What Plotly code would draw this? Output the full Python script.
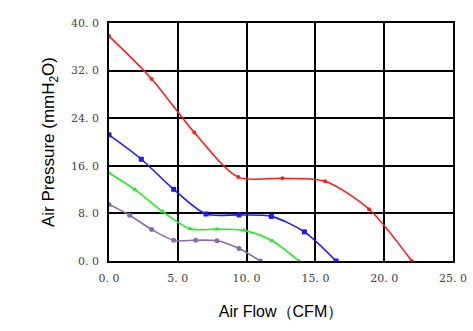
import plotly.graph_objects as go

# P-Q curves for four fan speeds
red_x = [0.0, 3.1, 6.2, 9.4, 12.6, 15.7, 18.9, 22.0]
red_y = [37.8, 30.6, 21.6, 14.1, 13.9, 13.4, 8.7, 0.0]

blue_x = [0.0, 2.35, 4.7, 7.05, 9.45, 11.8, 14.2, 16.5]
blue_y = [21.2, 17.1, 12.05, 7.9, 7.75, 7.5, 4.9, 0.0]

green_x = [0.0, 1.9, 3.9, 5.9, 7.85, 9.8, 11.85, 13.8]
green_y = [14.8, 12.0, 8.3, 5.4, 5.35, 5.15, 3.4, 0.0]

purple_x = [0.0, 1.5, 3.1, 4.7, 6.3, 7.85, 9.45, 11.0]
purple_y = [9.5, 7.7, 5.3, 3.5, 3.5, 3.4, 2.1, 0.0]

x_ticks = [0, 5, 10, 15, 20, 25]
x_tick_text = ["0. 0", "5. 0", "10. 0", "15. 0", "20. 0", "25. 0"]
y_ticks = [0, 8, 16, 24, 32, 40]
y_tick_text = ["0. 0", "8. 0", "16. 0", "24. 0", "32. 0", "40. 0"]

series = [
    (red_x, red_y, "#ff1a1a", "circle", 4),
    (blue_x, blue_y, "#1a1aff", "square", 5),
    (green_x, green_y, "#22ee22", "triangle-up", 5),
    (purple_x, purple_y, "#8a6fa8", "circle", 5),
]

fig = go.Figure()
for xs, ys, color, symbol, size in series:
    fig.add_trace(go.Scatter(
        x=xs, y=ys, mode="lines+markers",
        line=dict(color=color, width=1.6, shape="spline", smoothing=0.8),
        marker=dict(color=color, symbol=symbol, size=size),
        showlegend=False,
    ))

tick_font = dict(family="DejaVu Serif, Liberation Serif, serif", size=11, color="#444444")
axis_common = dict(
    showgrid=True, gridcolor="black", gridwidth=1.5,
    showline=True, linecolor="black", linewidth=1.5, mirror=True,
    zeroline=False, ticks="", tickfont=tick_font, automargin=False,
)

fig.update_xaxes(
    range=[0, 25], tickvals=x_ticks, ticktext=x_tick_text, ticklabelstandoff=6,
    title=dict(text="Air Flow（CFM）", font=dict(family="Liberation Sans, Arial, sans-serif", size=16, color="black"), standoff=22),
    **axis_common,
)
fig.update_yaxes(
    range=[0, 40], tickvals=y_ticks, ticktext=y_tick_text, ticklabelstandoff=6,
    title=dict(text="Air Pressure (mmH<sub>2</sub>O)", font=dict(family="Liberation Sans, Arial, sans-serif", size=17, color="black"), standoff=12),
    **axis_common,
)

fig.update_layout(
    width=473, height=331,
    margin=dict(l=109, r=20, t=23, b=70),
    plot_bgcolor="white", paper_bgcolor="white",
)

fig.write_html("out.html")
